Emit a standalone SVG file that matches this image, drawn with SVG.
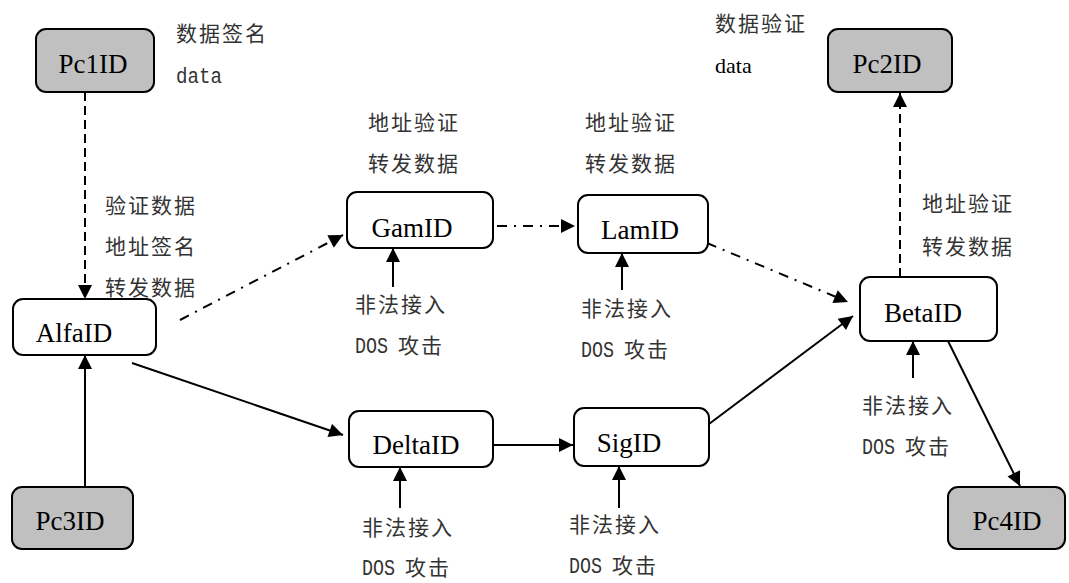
<svg xmlns="http://www.w3.org/2000/svg" width="1069" height="583" viewBox="0 0 1069 583">
<style>
.box{fill:#fff;stroke:#000;stroke-width:2}
.pc{fill:#c0c0c0;stroke:#000;stroke-width:2}
.nt{font-family:"Liberation Serif","Times New Roman",serif;font-size:27px;fill:#000;text-anchor:middle}
.cn{font-family:"Noto Sans CJK SC",sans-serif;font-size:21px;fill:#333;letter-spacing:2px}
.mono{font-family:"Liberation Mono","DejaVu Sans Mono",monospace;font-size:22px;fill:#333}
.ser{font-family:"Liberation Serif","Times New Roman",serif;font-size:22px;fill:#000}
.ln{stroke:#000;stroke-width:2;fill:none;marker-end:url(#arr)}
.dash{stroke-dasharray:9 5}
.dd{stroke-dasharray:10 7 2 7}
</style>
<defs>
<marker id="arr" viewBox="0 0 10 10" refX="10" refY="5" markerWidth="16" markerHeight="14" markerUnits="userSpaceOnUse" orient="auto">
<path d="M0,0 L10,5 L0,10 z" fill="#000"/>
</marker>
</defs>
<rect width="1069" height="583" fill="#fff"/>
<g id="connectors">
<line class="ln dash" x1="85" y1="92" x2="85" y2="299"/>
<line class="ln" x1="85" y1="487" x2="85" y2="355"/>
<line class="ln dd" x1="180" y1="320" x2="343" y2="235"/>
<line class="ln dd" x1="497" y1="226" x2="575" y2="226"/>
<line class="ln dd" x1="683" y1="233" x2="848" y2="302"/>
<line class="ln" x1="132" y1="363" x2="343" y2="435"/>
<line class="ln" x1="493" y1="445" x2="573" y2="445"/>
<line class="ln" x1="709" y1="424" x2="853" y2="316"/>
<line class="ln dash" x1="900" y1="277" x2="900" y2="93"/>
<line class="ln" x1="948" y1="341" x2="1020" y2="486"/>
<line class="ln" x1="393" y1="287" x2="393" y2="248"/>
<line class="ln" x1="622" y1="290" x2="622" y2="253"/>
<line class="ln" x1="400" y1="508" x2="400" y2="467"/>
<line class="ln" x1="619" y1="508" x2="619" y2="466"/>
<line class="ln" x1="913" y1="378" x2="913" y2="341"/>
</g>
<g id="Pc1ID"><rect class="pc" x="36" y="29" width="118" height="63" rx="10"/><text class="nt" x="93" y="73">Pc1ID</text></g>
<g id="Pc2ID"><rect class="pc" x="828" y="29" width="124" height="63" rx="10"/><text class="nt" x="887" y="73">Pc2ID</text></g>
<g id="Pc3ID"><rect class="pc" x="12" y="487" width="121" height="62" rx="10"/><text class="nt" x="70" y="530">Pc3ID</text></g>
<g id="Pc4ID"><rect class="pc" x="948" y="487" width="117" height="62" rx="10"/><text class="nt" x="1007" y="530">Pc4ID</text></g>
<g id="AlfaID"><rect class="box" x="13" y="299" width="143" height="56" rx="10"/><text class="nt" x="74" y="342">AlfaID</text></g>
<g id="GamID"><rect class="box" x="347" y="192" width="146" height="56" rx="10"/><text class="nt" x="412" y="237">GamID</text></g>
<g id="LamID"><rect class="box" x="578" y="195" width="130" height="58" rx="10"/><text class="nt" x="640" y="239">LamID</text></g>
<g id="DeltaID"><rect class="box" x="349" y="411" width="144" height="56" rx="10"/><text class="nt" x="416" y="454">DeltaID</text></g>
<g id="SigID"><rect class="box" x="574" y="408" width="135" height="58" rx="10"/><text class="nt" x="629" y="452">SigID</text></g>
<g id="BetaID"><rect class="box" x="860" y="277" width="137" height="64" rx="10"/><text class="nt" x="923" y="322">BetaID</text></g>
<g id="labels">
<text class="cn" x="176" y="41">数据签名</text>
<text class="mono" x="176" y="83" textLength="46" lengthAdjust="spacingAndGlyphs">data</text>
<text class="cn" x="715" y="31">数据验证</text>
<text class="ser" x="715" y="73">data</text>
<text class="cn" x="105" y="213">验证数据</text>
<text class="cn" x="105" y="254">地址签名</text>
<text class="cn" x="105" y="295">转发数据</text>
<text class="cn" x="368" y="130">地址验证</text>
<text class="cn" x="368" y="171">转发数据</text>
<text class="cn" x="585" y="130">地址验证</text>
<text class="cn" x="585" y="171">转发数据</text>
<text class="cn" x="922" y="211">地址验证</text>
<text class="cn" x="922" y="254">转发数据</text>
<text class="cn" x="355" y="312">非法接入</text>
<text class="mono" x="355" y="353" textLength="33" lengthAdjust="spacingAndGlyphs">DOS</text><text class="cn" x="398" y="353">攻击</text>
<text class="cn" x="581" y="316">非法接入</text>
<text class="mono" x="581" y="357" textLength="33" lengthAdjust="spacingAndGlyphs">DOS</text><text class="cn" x="624" y="357">攻击</text>
<text class="cn" x="362" y="535">非法接入</text>
<text class="mono" x="362" y="575" textLength="33" lengthAdjust="spacingAndGlyphs">DOS</text><text class="cn" x="405" y="575">攻击</text>
<text class="cn" x="569" y="532">非法接入</text>
<text class="mono" x="569" y="573" textLength="33" lengthAdjust="spacingAndGlyphs">DOS</text><text class="cn" x="612" y="573">攻击</text>
<text class="cn" x="862" y="413">非法接入</text>
<text class="mono" x="862" y="454" textLength="33" lengthAdjust="spacingAndGlyphs">DOS</text><text class="cn" x="905" y="454">攻击</text>
</g>
</svg>
